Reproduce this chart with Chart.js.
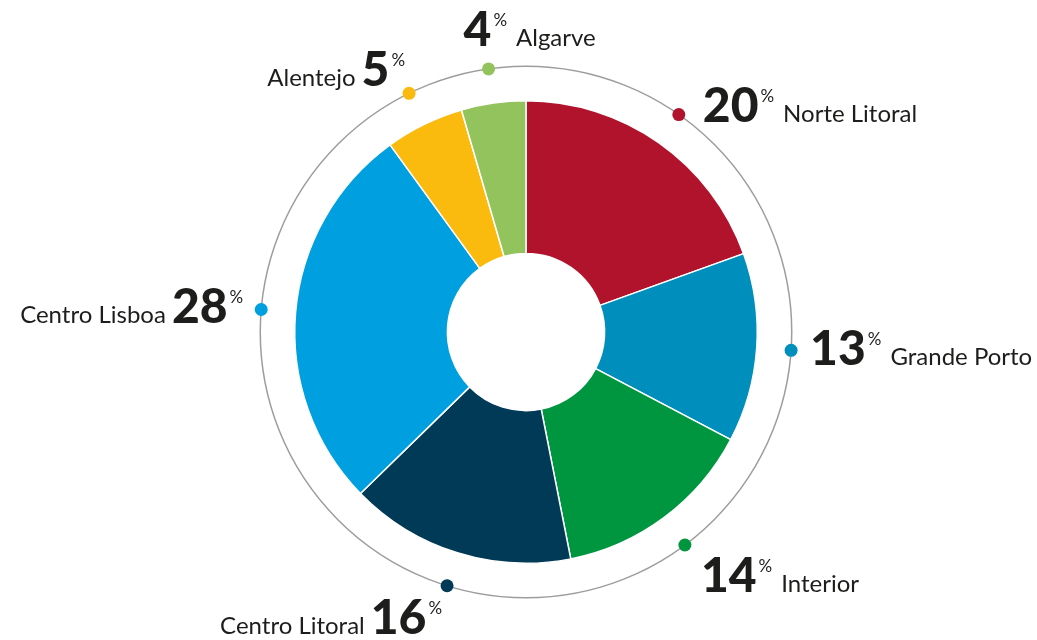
<!DOCTYPE html>
<html>
<head>
<meta charset="utf-8">
<script src="https://cdn.jsdelivr.net/npm/chart.js@4"></script>
<style>
  html, body { margin:0; padding:0; background:#fff; }
  #wrap { width:1037px; height:640px; position:relative; }
</style>
</head>
<body>
<div id="wrap"><canvas id="regions-chart"></canvas></div>
<script>
// regions, clockwise from the top
const regions = ['Norte Litoral', 'Grande Porto', 'Interior', 'Centro Litoral', 'Centro Lisboa', 'Alentejo', 'Algarve'];
// printed percentages
const shares  = [20, 13, 14, 16, 28, 5, 4];
// slice sizes as drawn in the picture (the artwork does not follow the printed numbers exactly)
const sliceSizes = [19.5, 13.2, 14.2, 15.8, 27.3, 5.5, 4.5];
const colors  = ['#B0132B', '#008EBD', '#009640', '#003A56', '#009FDF', '#FBBA0E', '#93C35D'];

// label placement relative to each ring dot: [dx, dy, side]
// 'after' = number then name, anchored left; 'before' = name then number, anchored right
const labelPlace = [
  [24, 7, 'after'],
  [19, 15, 'after'],
  [16, 47, 'after'],
  [-5, 48, 'before'],
  [-18, 14, 'before'],
  [-4, -7, 'before'],
  [-25, -23, 'after']
];

const NUM_FONT  = '900 48px Lato';
const PCT_FONT  = '17px Lato';
const NAME_FONT = '24px Lato';
const INK = '#1d1d1b';

const ringPlugin = {
  id: 'ringLabels',
  afterDatasetsDraw(chart) {
    const { ctx } = chart;
    const arcs = chart.getDatasetMeta(0).data;
    if (!arcs.length) return;
    const cx = arcs[0].x, cy = arcs[0].y;
    const R = arcs[0].outerRadius + 34.5;

    ctx.save();
    ctx.beginPath();
    ctx.arc(cx, cy, R, 0, Math.PI * 2);
    ctx.strokeStyle = '#9d9d9c';
    ctx.lineWidth = 1.5;
    ctx.stroke();

    arcs.forEach((a, i) => {
      const mid = (a.startAngle + a.endAngle) / 2;
      const dx = cx + Math.cos(mid) * R, dy = cy + Math.sin(mid) * R;
      ctx.beginPath();
      ctx.arc(dx, dy, 6.5, 0, Math.PI * 2);
      ctx.fillStyle = colors[i];
      ctx.fill();

      const [ox, oy, side] = labelPlace[i];
      const num = String(shares[i]);
      ctx.textBaseline = 'alphabetic';
      ctx.font = NUM_FONT;  const wNum = ctx.measureText(num).width;
      ctx.font = PCT_FONT;  const wPct = ctx.measureText('%').width;
      ctx.font = NAME_FONT; const wName = ctx.measureText(regions[i]).width;
      const base = dy + oy;
      let x;
      ctx.fillStyle = INK;
      if (side === 'after') {
        x = dx + ox;
      } else {
        x = dx + ox - (wName + 6 + wNum + 2 + wPct);
        ctx.font = NAME_FONT;
        ctx.fillText(regions[i], x, base);
        x += wName + 6;
      }
      ctx.font = NUM_FONT;
      ctx.fillText(num, x, base);
      x += wNum + 2;
      ctx.font = PCT_FONT;
      ctx.fillText('%', x, base - 20);
      x += wPct;
      if (side === 'after') {
        ctx.font = NAME_FONT;
        ctx.fillText(regions[i], x + 9, base);
      }
    });
    ctx.restore();
  }
};

new Chart(document.getElementById('regions-chart'), {
  type: 'doughnut',
  data: {
    labels: regions,
    datasets: [{ data: sliceSizes, backgroundColor: colors, borderColor: '#ffffff', borderWidth: 1.5, hoverOffset: 0 }]
  },
  options: {
    responsive: true,
    maintainAspectRatio: false,
    animation: false,
    cutout: '34%',
    layout: { padding: { left: 294, right: 279, top: 100, bottom: 76 } },
    plugins: { legend: { display: false }, tooltip: { enabled: false } }
  },
  plugins: [ringPlugin]
});
</script>
</body>
</html>
